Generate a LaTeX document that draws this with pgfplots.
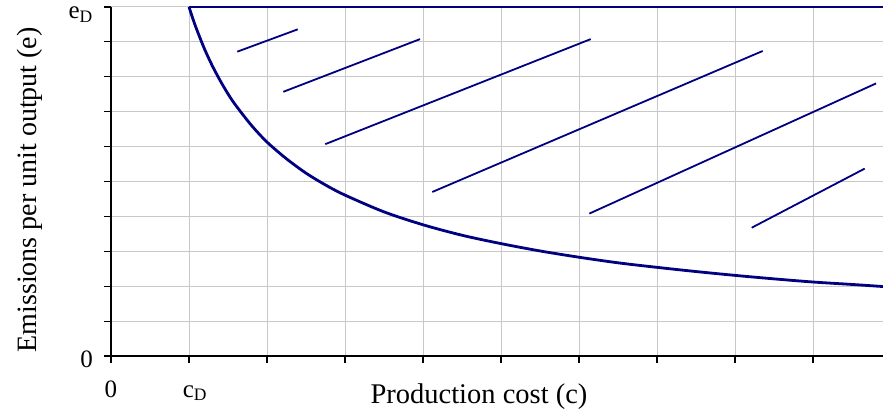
\documentclass[border=0pt]{standalone}
\usepackage{fontspec}
\setmainfont{Liberation Serif}
\usepackage{pgfplots}
\pgfplotsset{compat=1.18}
\definecolor{navyline}{RGB}{0,0,128}
\definecolor{gridgray}{RGB}{200,200,200}
\begin{document}
\begin{tikzpicture}
\begin{axis}[
  scale only axis, width=772bp, height=349bp,
  xmin=0, xmax=9.897, ymin=0, ymax=10,
  axis lines*=left,
  axis line style={black, line width=1.4bp},
  xtick={0,1,2,3,4,5,6,7,8,9},
  ytick={0,1,2,3,4,5,6,7,8,9,10},
  xticklabels={0,{\hspace{12bp}c\textsubscript{D}},{},{},{},{},{},{},{},{}},
  yticklabels={{0\hspace{10bp}},{},{},{},{},{},{},{},{},{},{e\textsubscript{D}}},
  tick align=outside,
  major tick length=7bp,
  tick style={black, line width=1.2bp},
  grid=major,
  major grid style={gridgray, line width=1bp},
  xticklabel style={font=\fontsize{25bp}{28bp}\selectfont, anchor=base, inner sep=0pt, yshift=-34bp},
  yticklabel style={font=\fontsize{25bp}{28bp}\selectfont, anchor=base east, inner sep=0pt, xshift=-11bp, yshift=-11.5bp},
  xlabel={Production cost (c)},
  ylabel={Emissions per unit output (e)},
  every axis x label/.style={at={(axis description cs:0.4767,-0.1375)}, anchor=base, font=\fontsize{28.5bp}{32bp}\selectfont},
  every axis y label/.style={at={(axis description cs:-0.0971,0.476)}, rotate=90, anchor=base, font=\fontsize{28bp}{32bp}\selectfont},
  clip=true,
]
\coordinate (O) at (axis cs:0,0);
\addplot[navyline, line width=2.6bp] coordinates {(1.0,10) (9.897,10)};
\addplot[navyline, line width=2.8bp, smooth] coordinates {
(1.0,10) (1.05,9.66) (1.1,9.35) (1.2,8.79) (1.3,8.31) (1.4,7.89) (1.5,7.51)
(1.6,7.18) (1.8,6.61) (2.0,6.13) (2.25,5.65) (2.5,5.24) (2.75,4.90) (3.0,4.61)
(3.5,4.13) (4.0,3.76) (4.5,3.46) (5.0,3.22) (5.5,3.01) (6.0,2.83) (6.5,2.67)
(7.0,2.54) (7.5,2.42) (8.0,2.31) (8.5,2.21) (9.0,2.12) (9.5,2.05) (9.897,1.99)};
\addplot[navyline, line width=1.8bp] coordinates {(1.619,8.72) (2.394,9.36)};
\addplot[navyline, line width=1.8bp] coordinates {(2.209,7.57) (3.962,9.08)};
\addplot[navyline, line width=1.8bp] coordinates {(2.747,6.07) (6.15,9.08)};
\addplot[navyline, line width=1.8bp] coordinates {(4.119,4.70) (8.355,8.74)};
\addplot[navyline, line width=1.8bp] coordinates {(6.132,4.08) (9.808,7.81)};
\addplot[navyline, line width=1.8bp] coordinates {(8.214,3.676) (9.663,5.37)};
\end{axis}
\pgfresetboundingbox
\path[use as bounding box] ([shift={(-111bp,-57bp)}]O) rectangle ([shift={(772bp,356bp)}]O);
\end{tikzpicture}
\end{document}
